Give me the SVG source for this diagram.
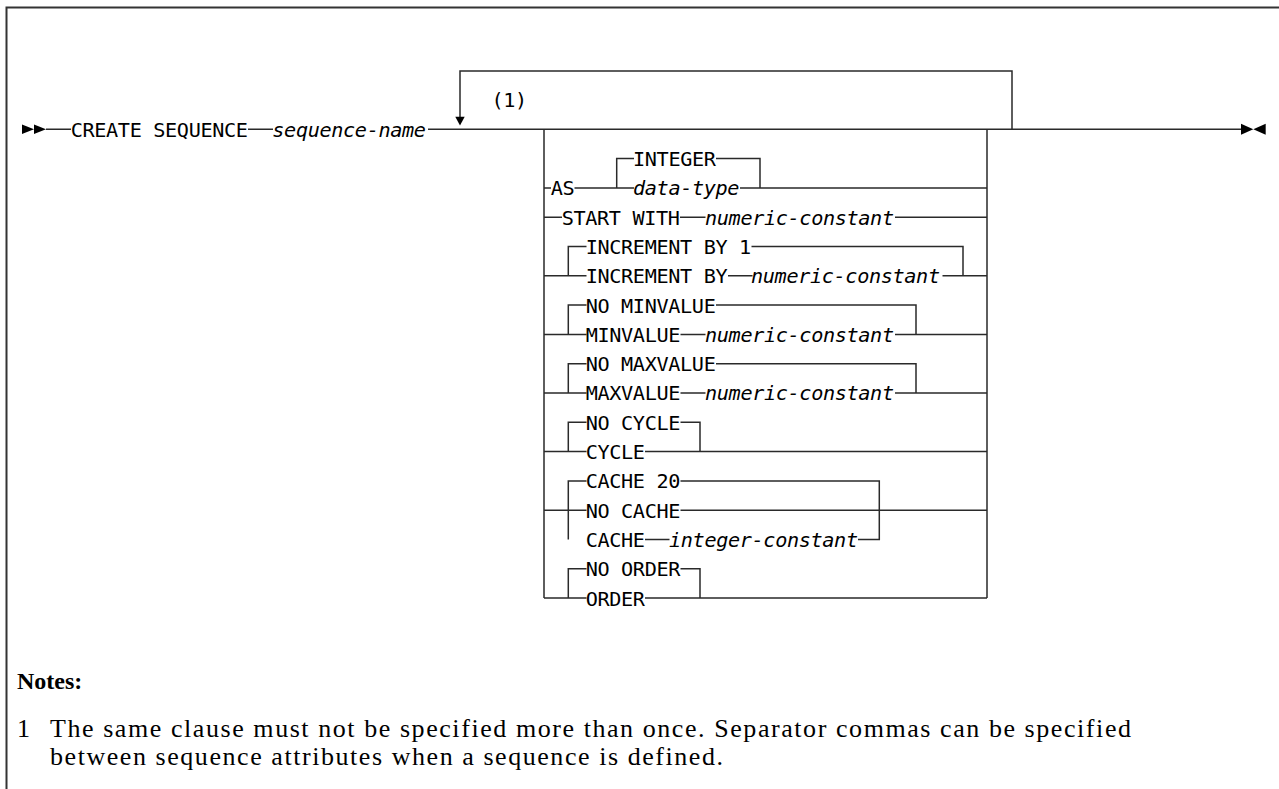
<svg xmlns="http://www.w3.org/2000/svg" width="1279" height="789" viewBox="0 0 1279 789">
<style>
.t{font-family:"DejaVu Sans Mono","Liberation Mono",monospace;font-size:20.2px;letter-spacing:-0.36px;fill:#000}
.i{font-style:italic}
.c{fill:none;stroke:#2a2a2a;stroke-width:1.5}
.a{fill:#000}
.n{font-family:"Liberation Serif",serif;font-size:26px;fill:#000}
.b{font-weight:bold;font-size:24px}
</style>
<rect width="1279" height="789" fill="#fff"/>
<path d="M6.5,789V7.5H1279" fill="none" stroke="#333" stroke-width="2"/>
<g id="connectors">
<path class="c" d="M46,129.3H71 M248,129.3H273 M428,129.3H1241"/>
<path class="c" d="M460,117V71H1012V129.3"/>
<path class="c" d="M544,129.3V598.1 M987,129.3V598.1"/>
<path class="c" d="M616.7,187.9V158.6H634 M716,158.6H760V187.9 M544,187.9H551 M574.5,187.9H634 M740,187.9H987"/>
<path class="c" d="M544,217.2H562 M680,217.2H705.5 M895,217.2H987"/>
<path class="c" d="M568.3,275.8V246.5H586.5 M751.5,246.5H963V275.8 M544,275.8H586.5 M728,275.8H752.5 M942.5,275.8H987"/>
<path class="c" d="M568.3,334.4V305.1H586.5 M716,305.1H916V334.4 M544,334.4H586.5 M680.5,334.4H705.5 M895,334.4H987"/>
<path class="c" d="M568.3,393V363.7H586.5 M716,363.7H916V393 M544,393H586.5 M680.5,393H705.5 M895,393H987"/>
<path class="c" d="M568.3,451.6V422.3H586.5 M680.5,422.3H700V451.6 M544,451.6H586.5 M645,451.6H987"/>
<path class="c" d="M568.3,539.5V480.9H586.5 M680.5,480.9H879.3V539.5H858 M544,510.2H586.5 M680.5,510.2H987 M645,539.5H669.5"/>
<path class="c" d="M568.3,598.1V568.8H586.5 M680.5,568.8H700V598.1 M544,598.1H586.5 M645,598.1H987"/>
<polygon class="a" points="455.3,116.7 464.7,116.7 460,125.5"/>
</g>
<g id="start"><polygon class="a" points="22,124.6 34,129.3 22,134"/><polygon class="a" points="34,124.6 46,129.3 34,134"/></g>
<g id="end"><polygon class="a" points="1241,123.8 1253.3,129.3 1241,134.8"/><polygon class="a" points="1265.7,123.8 1253.3,129.3 1265.7,134.8"/></g>
<g id="create"><text class="t" x="70.7" y="136.7">CREATE SEQUENCE</text></g>
<g id="seqname"><text class="t i" x="272.3" y="136.7">sequence-name</text></g>
<g id="note-ref"><text class="t" x="491.5" y="107">(1)</text></g>
<g id="as"><text class="t" x="550.7" y="195.3">AS</text><text class="t" x="633" y="166">INTEGER</text><text class="t i" x="633" y="195.3">data-type</text></g>
<g id="start-with"><text class="t" x="561.7" y="224.6">START WITH</text><text class="t i" x="705" y="224.6">numeric-constant</text></g>
<g id="increment"><text class="t" x="585.7" y="253.9">INCREMENT BY 1</text><text class="t" x="585.7" y="283.2">INCREMENT BY</text><text class="t i" x="751" y="283.2">numeric-constant</text></g>
<g id="minvalue"><text class="t" x="585.7" y="312.5">NO MINVALUE</text><text class="t" x="585.7" y="341.8">MINVALUE</text><text class="t i" x="705" y="341.8">numeric-constant</text></g>
<g id="maxvalue"><text class="t" x="585.7" y="371.1">NO MAXVALUE</text><text class="t" x="585.7" y="400.4">MAXVALUE</text><text class="t i" x="705" y="400.4">numeric-constant</text></g>
<g id="cycle"><text class="t" x="585.7" y="429.7">NO CYCLE</text><text class="t" x="585.7" y="459">CYCLE</text></g>
<g id="cache"><text class="t" x="585.7" y="488.3">CACHE 20</text><text class="t" x="585.7" y="517.6">NO CACHE</text><text class="t" x="585.7" y="546.9">CACHE</text><text class="t i" x="669" y="546.9">integer-constant</text></g>
<g id="order"><text class="t" x="585.7" y="576.2">NO ORDER</text><text class="t" x="585.7" y="605.5">ORDER</text></g>
<g id="notes">
<text class="n b" x="17" y="689">Notes:</text>
<text class="n" x="17" y="737">1</text>
<text class="n" x="50" y="737" textLength="1081" lengthAdjust="spacing">The same clause must not be specified more than once. Separator commas can be specified</text>
<text class="n" x="50" y="765" textLength="673" lengthAdjust="spacing">between sequence attributes when a sequence is defined.</text>
</g>
</svg>
